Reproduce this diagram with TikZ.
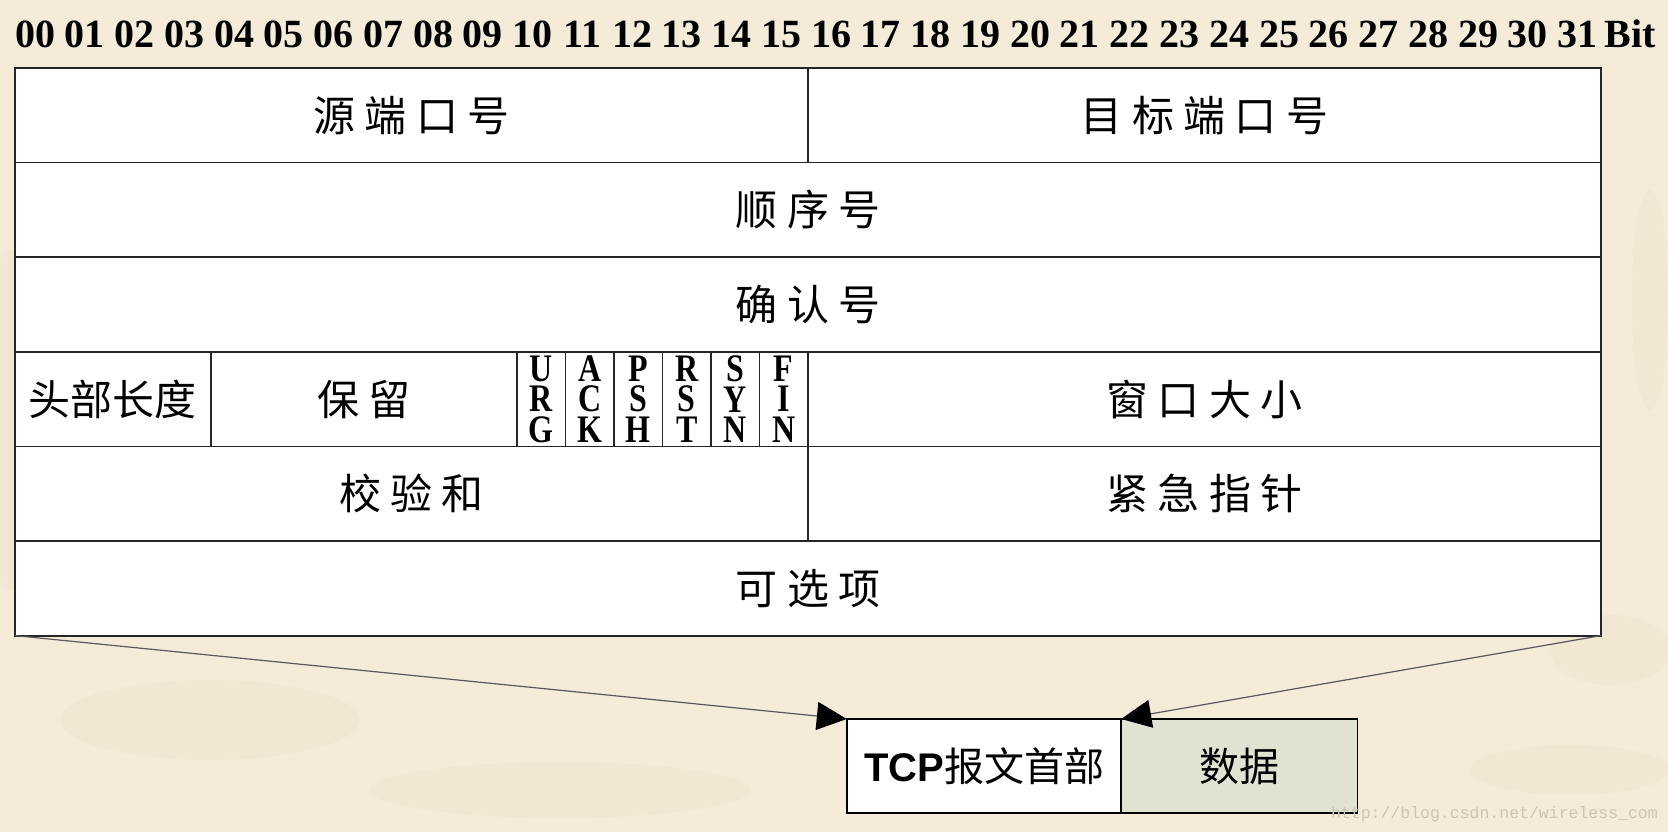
\documentclass[tikz,border=0pt]{standalone}
\usepackage{fontspec}
\newfontfamily\cjk{Noto Sans CJK SC}
\newfontfamily\tnr{Liberation Serif}
\newfontfamily\tnrc[FakeStretch=0.82]{Liberation Serif}
\newfontfamily\arial{Liberation Sans}
\newfontfamily\mono{Liberation Mono}
\usetikzlibrary{arrows.meta}
\definecolor{bgc}{RGB}{244,235,216}
\definecolor{blob}{RGB}{226,212,182}
\definecolor{datafill}{RGB}{224,226,210}
\definecolor{wm}{RGB}{205,196,180}
\tikzset{
  cellbox/.style={draw=black!85, line width=1.8pt, fill=white, inner sep=0pt, outer sep=0pt,
    font=\cjk\fontsize{42}{50}\selectfont},
  flagbox/.style={cellbox, align=center, font=\tnrc\bfseries\fontsize{39}{30.5}\selectfont},
  bitnum/.style={font=\tnr\bfseries\fontsize{40}{44}\selectfont, inner sep=0pt},
  bottombox/.style={draw=black, line width=1.6pt, inner sep=0pt, outer sep=0pt,
    font=\cjk\fontsize{40}{48}\selectfont},
  conn/.style={draw=black!65, line width=1.2pt, -{Triangle[length=30pt,width=28pt,color=black]}},
}
\newcommand{\tcell}[7][cellbox]{\node[#1, minimum width={(#5-#3)*1pt}, minimum height={(#6-#4)*1pt}] (#2) at ({(#3+#5)/2},{(#4+#6)/2}) {#7};}
\begin{document}
\begin{tikzpicture}[x=1pt,y=-1pt]
\useasboundingbox (0,0) rectangle (1668,832);
\fill[bgc] (0,0) rectangle (1668,832);
% faint background texture
\begin{scope}[blob, opacity=0.14]
  \fill (10,420) ellipse (30 and 170);
  \fill (1610,650) ellipse (60 and 35);
  \fill (1570,770) ellipse (100 and 25);
  \fill (210,720) ellipse (150 and 40);
  \fill (560,790) ellipse (190 and 28);
  \fill (1650,300) ellipse (18 and 110);
\end{scope}
% bit numbers
\foreach \i in {0,...,31}{
  \node[bitnum] (b\i) at ({35+49.76*\i},34) {\ifnum\i<10 0\fi\i};
}
\node[bitnum] (bit) at (1630.5,34) {Bit};
% table
\tcell{src}{15}{68}{808}{162.6}{源 端 口 号}
\tcell{dst}{808}{68}{1601}{162.6}{目 标 端 口 号}
\tcell{seq}{15}{162.6}{1601}{257.2}{顺 序 号}
\tcell{ack}{15}{257.2}{1601}{351.8}{确 认 号}
\tcell{hlen}{15}{351.8}{210.6}{446.4}{头部长度}
\tcell{rsv}{210.6}{351.8}{517}{446.4}{保 留}
\tcell[flagbox]{furg}{517}{351.8}{565.5}{446.4}{U\\R\\G}
\tcell[flagbox]{fack}{565.5}{351.8}{614}{446.4}{A\\C\\K}
\tcell[flagbox]{fpsh}{614}{351.8}{662.5}{446.4}{P\\S\\H}
\tcell[flagbox]{frst}{662.5}{351.8}{711}{446.4}{R\\S\\T}
\tcell[flagbox]{fsyn}{711}{351.8}{759.5}{446.4}{S\\Y\\N}
\tcell[flagbox]{ffin}{759.5}{351.8}{808}{446.4}{F\\I\\N}
\tcell{win}{808}{351.8}{1601}{446.4}{窗 口 大 小}
\tcell{chk}{15}{446.4}{808}{541}{校 验 和}
\tcell{urg}{808}{446.4}{1601}{541}{紧 急 指 针}
\tcell{opt}{15}{541}{1601}{635.6}{可 选 项}
% bottom boxes
\tcell[bottombox, fill=white]{hdr}{846.8}{719}{1121.2}{812.7}{{\arial\bfseries TCP}报文首部}
\tcell[bottombox, fill=datafill]{data}{1121.2}{719}{1357.4}{812.7}{数据}
% connectors
\draw[conn] (opt.south west) -- (hdr.north west);
\draw[conn] (opt.south east) -- (hdr.north east);
% watermark
\node[font=\mono\fontsize{16.5}{18}\selectfont, text=wm, anchor=east, inner sep=0pt] (wmk) at (1658,814) {http://blog.csdn.net/wireless\_com};
\end{tikzpicture}
\end{document}
